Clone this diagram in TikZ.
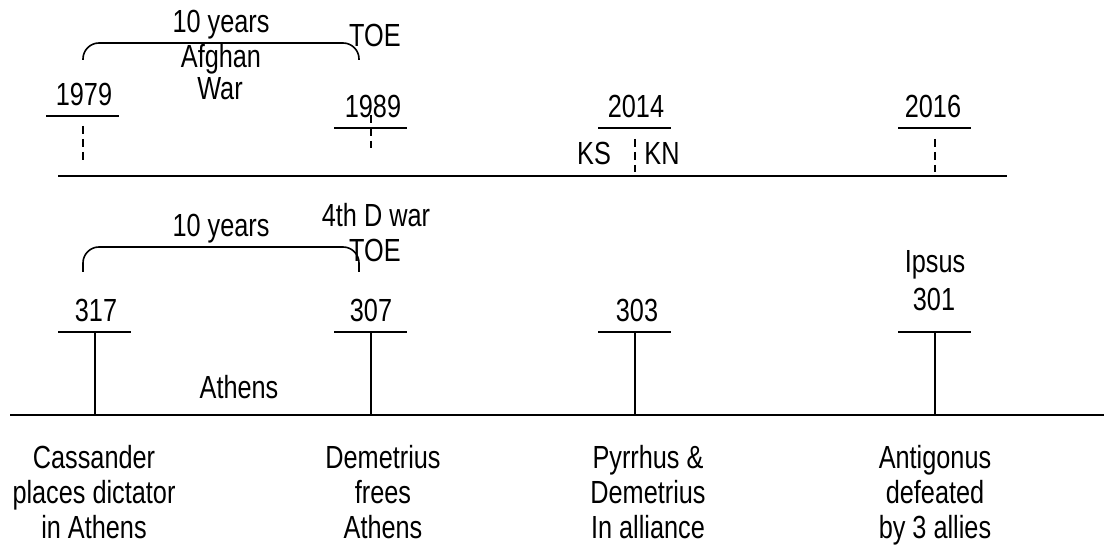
\documentclass[tikz,border=0pt]{standalone}
\usepackage{fontspec}
\setmainfont[FakeStretch=0.79]{Liberation Sans}
\usetikzlibrary{calc}

\begin{document}
\begin{tikzpicture}[x=1pt,y=-1pt,line width=2pt,
   lbl/.style={inner sep=0pt,anchor=base,font=\fontsize{32}{35}\selectfont},
   evt/.style={inner sep=0pt,anchor=north,align=center,font=\fontsize{32}{35}\selectfont},
   dashtick/.style={dash pattern=on 8pt off 5pt},
   brace/.style={line width=1.6pt,rounded corners=16pt}]
   \useasboundingbox (0,0) rectangle (1104,548);

   % Top line
   \coordinate (a1l) at (58,176);
   \coordinate (a1r) at (1007,176);
   \path[draw] (a1l) -- (a1r);

   \node[lbl] (y1979) at (84,106) {1979};
   \node[lbl] (y1989) at (373,118) {1989};
   \node[lbl] (y2014) at (636,118) {2014};
   \node[lbl] (y2016) at (933,118) {2016};

   \coordinate (b1979) at (83,116);
   \coordinate (b1989) at (371,128);
   \coordinate (b2014) at (635,128);
   \coordinate (b2016) at (935,128);

   \path[draw] ([xshift=-37pt]b1979) -- ([xshift=36pt]b1979);
   \path[draw] ([xshift=-37pt]b1989) -- ([xshift=36pt]b1989);
   \path[draw] ([xshift=-37pt]b2014) -- ([xshift=36pt]b2014);
   \path[draw] ([xshift=-37pt]b2016) -- ([xshift=36pt]b2016);

   \coordinate (d1979a) at (83,126);  \coordinate (d1979b) at (83,160);
   \coordinate (d1989a) at (371,115); \coordinate (d1989b) at (371,148);
   \coordinate (d2014a) at (635,139); \coordinate (d2014b) at (635,172);
   \coordinate (d2016a) at (935,139); \coordinate (d2016b) at (935,172);
   \path[draw,dashtick] (d1979a) -- (d1979b);
   \path[draw,dashtick] (d1989a) -- (d1989b);
   \path[draw,dashtick] (d2014a) -- (d2014b);
   \path[draw,dashtick] (d2016a) -- (d2016b);

   \node[lbl] (ks) at (594,165) {KS};
   \node[lbl] (kn) at (662,165) {KN};

   \coordinate (br1l) at (83,60);
   \coordinate (br1r) at (359,60);
   \path[draw,brace] (br1l) |- ($(br1l)!.5!(br1r)+(0,-17)$) -| (br1r);
   \node[lbl] (yrs1) at (221,33) {10 years};
   \node[lbl] (toe1) at (375,47) {TOE};
   \node[lbl] (afg) at (221,68) {Afghan};
   \node[lbl] (war) at (220,100) {War};

   % Bottom line
   \coordinate (a2l) at (10,415);
   \coordinate (a2r) at (1104,415);
   \path[draw] (a2l) -- (a2r);

   \node[lbl] (y317) at (96,322) {317};
   \node[lbl] (y307) at (371,322) {307};
   \node[lbl] (y303) at (637,322) {303};
   \node[lbl] (y301) at (934,311) {301};
   \node[lbl] (ipsus) at (935,273) {Ipsus};

   \coordinate (b317) at (95,332);
   \coordinate (b307) at (371,332);
   \coordinate (b303) at (635,332);
   \coordinate (b301) at (935,332);

   \path[draw] ([xshift=-37pt]b317) -- ([xshift=36pt]b317);
   \path[draw] ([xshift=-37pt]b307) -- ([xshift=36pt]b307);
   \path[draw] ([xshift=-37pt]b303) -- ([xshift=36pt]b303);
   \path[draw] ([xshift=-37pt]b301) -- ([xshift=36pt]b301);

   \path[draw] (b317) -- (b317 |- a2l);
   \path[draw] (b307) -- (b307 |- a2l);
   \path[draw] (b303) -- (b303 |- a2l);
   \path[draw] (b301) -- (b301 |- a2l);

   \coordinate (br2l) at (83,272);
   \coordinate (br2r) at (359,272);
   \path[draw,brace] (br2l) |- ($(br2l)!.5!(br2r)+(0,-25)$) -| (br2r);
   \node[lbl] (yrs2) at (221,237) {10 years};
   \node[lbl] (dwar) at (376,227) {4th D war};
   \node[lbl] (toe2) at (375,262) {TOE};
   \node[lbl] (athens) at (239,398) {Athens};

   \node[evt] (e317) at (94,444) {Cassander\\places dictator\\in Athens};
   \node[evt] (e307) at (383,444) {Demetrius\\frees\\Athens};
   \node[evt] (e303) at (648,444) {Pyrrhus \&\\Demetrius\\In alliance};
   \node[evt] (e301) at (935,444) {Antigonus\\defeated\\by 3 allies};

\end{tikzpicture}
\end{document}
